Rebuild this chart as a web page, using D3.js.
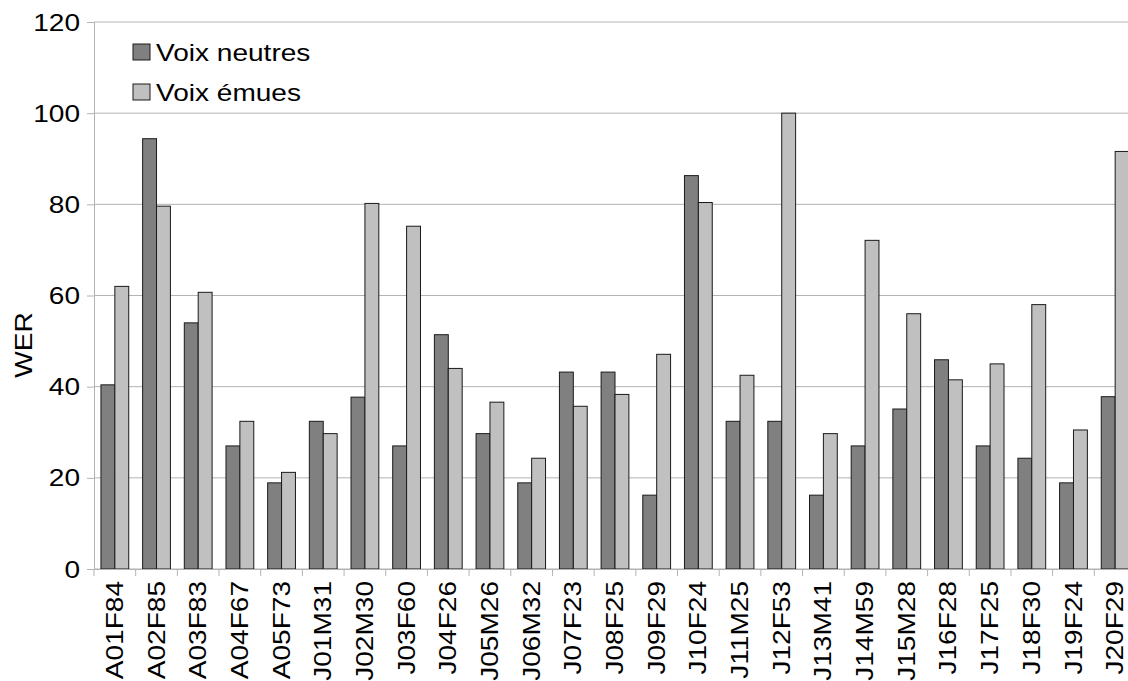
<!DOCTYPE html>
<html>
<head>
<meta charset="utf-8">
<script src="https://cdn.jsdelivr.net/npm/d3@7"></script>
<style>
  body { margin: 0; background: #fff; }
  text { font-family: "Liberation Sans", Arial, sans-serif; fill: #000; }
</style>
</head>
<body>
<svg id="chart" width="1128" height="681"></svg>
<script>
var categories = ["A01F84", "A02F85", "A03F83", "A04F67", "A05F73", "J01M31", "J02M30", "J03F60",
  "J04F26", "J05M26", "J06M32", "J07F23", "J08F25", "J09F29", "J10F24", "J11M25", "J12F53",
  "J13M41", "J14M59", "J15M28", "J16F28", "J17F25", "J18F30", "J19F24", "J20F29"];
var neutres = [40.4, 94.4, 54.0, 27.0, 18.9, 32.4, 37.7, 27.0, 51.4, 29.7, 18.9, 43.2, 43.2,
  16.2, 86.3, 32.4, 32.4, 16.2, 27.0, 35.1, 45.9, 27.0, 24.3, 18.9, 37.8];
var emues = [62.0, 79.6, 60.7, 32.4, 21.2, 29.7, 80.2, 75.2, 44.0, 36.6, 24.3, 35.7, 38.3,
  47.1, 80.4, 42.5, 100.0, 29.7, 72.1, 56.0, 41.5, 45.0, 58.0, 30.5, 91.6];
var seriesNames = ["Voix neutres", "Voix émues"];
var seriesColors = ["#808080", "#c0c0c0"];
var yTicks = [0, 20, 40, 60, 80, 100, 120];

var fontSize = "23px",
    stretch = " scale(1.22,1)";   // text in the picture is wider than plain Liberation Sans

var svg = d3.select("#chart"),
    margin = {top: 22, right: 0, bottom: 112, left: 94},
    width = 1136 - margin.left,
    height = 681 - margin.top - margin.bottom;

var g = svg.append("g")
    .attr("transform", "translate(" + margin.left + "," + margin.top + ")");

var x = d3.scaleBand().domain(categories).range([0, width])
    .paddingInner(1 / 3).paddingOuter(1 / 6);
var x1 = d3.scaleBand().domain([0, 1]).range([0, x.bandwidth()]);
var y = d3.scaleLinear().domain([0, 120]).range([height, 0]);

// grid
g.append("g").selectAll("line")
    .data(yTicks)
  .enter().append("line")
    .attr("x1", 0).attr("x2", width)
    .attr("y1", function(d) { return y(d); })
    .attr("y2", function(d) { return y(d); })
    .attr("stroke", "#b3b3b3")
    .attr("stroke-width", 1);

// y axis
var yAxis = g.append("g")
    .call(d3.axisLeft(y).tickValues(yTicks).tickSize(7));
yAxis.select(".domain").attr("stroke", "#b3b3b3");
yAxis.selectAll(".tick line").attr("stroke", "#b3b3b3");
yAxis.selectAll(".tick text")
    .style("font-size", fontSize)
    .attr("fill", "#000")
    .attr("x", 0)
    .attr("dy", "0.35em")
    .attr("transform", "translate(-14,0)" + stretch);

// bars
var rows = categories.map(function(c, i) { return {cat: c, vals: [neutres[i], emues[i]]}; });
var groups = g.append("g").selectAll("g")
    .data(rows)
  .enter().append("g")
    .attr("transform", function(d) { return "translate(" + x(d.cat) + ",0)"; });

groups.selectAll("rect")
    .data(function(d) { return d.vals; })
  .enter().append("rect")
    .attr("x", function(d, i) { return x1(i); })
    .attr("y", function(d) { return y(d); })
    .attr("width", x1.bandwidth())
    .attr("height", function(d) { return height - y(d); })
    .attr("fill", function(d, i) { return seriesColors[i]; })
    .attr("stroke", "#1a1a1a")
    .attr("stroke-width", 1);

// x axis
var xAxis = g.append("g")
    .attr("transform", "translate(0," + height + ")")
    .call(d3.axisBottom(x).tickSize(0).tickPadding(0));
xAxis.select(".domain").attr("stroke", "#b3b3b3");
xAxis.selectAll(".tick text")
    .style("font-size", fontSize)
    .attr("fill", "#000")
    .attr("text-anchor", "end")
    .attr("y", 0)
    .attr("dy", "0.35em")
    .attr("transform", "translate(0,12) rotate(-90)" + stretch);

// category separators below the axis
var sep = x.domain().map(function(c) { return x(c) - x.step() * x.paddingInner() / 2; });
g.append("g").selectAll("line")
    .data(sep)
  .enter().append("line")
    .attr("x1", function(d) { return d; }).attr("x2", function(d) { return d; })
    .attr("y1", height).attr("y2", height + 7)
    .attr("stroke", "#b3b3b3");

// y title
svg.append("text")
    .attr("transform", "translate(24,345) rotate(-90)" + stretch)
    .attr("text-anchor", "middle")
    .attr("dy", "0.35em")
    .style("font-size", fontSize)
    .text("WER");

// legend
var legend = svg.append("g").attr("transform", "translate(133,44)");
seriesNames.forEach(function(name, i) {
  var row = legend.append("g").attr("transform", "translate(0," + (i * 40) + ")");
  row.append("rect")
    .attr("width", 17).attr("height", 16)
    .attr("fill", seriesColors[i])
    .attr("stroke", "#1a1a1a");
  row.append("text")
    .attr("transform", "translate(23,17)" + stretch)
    .style("font-size", fontSize)
    .text(name);
});
</script>
</body>
</html>
